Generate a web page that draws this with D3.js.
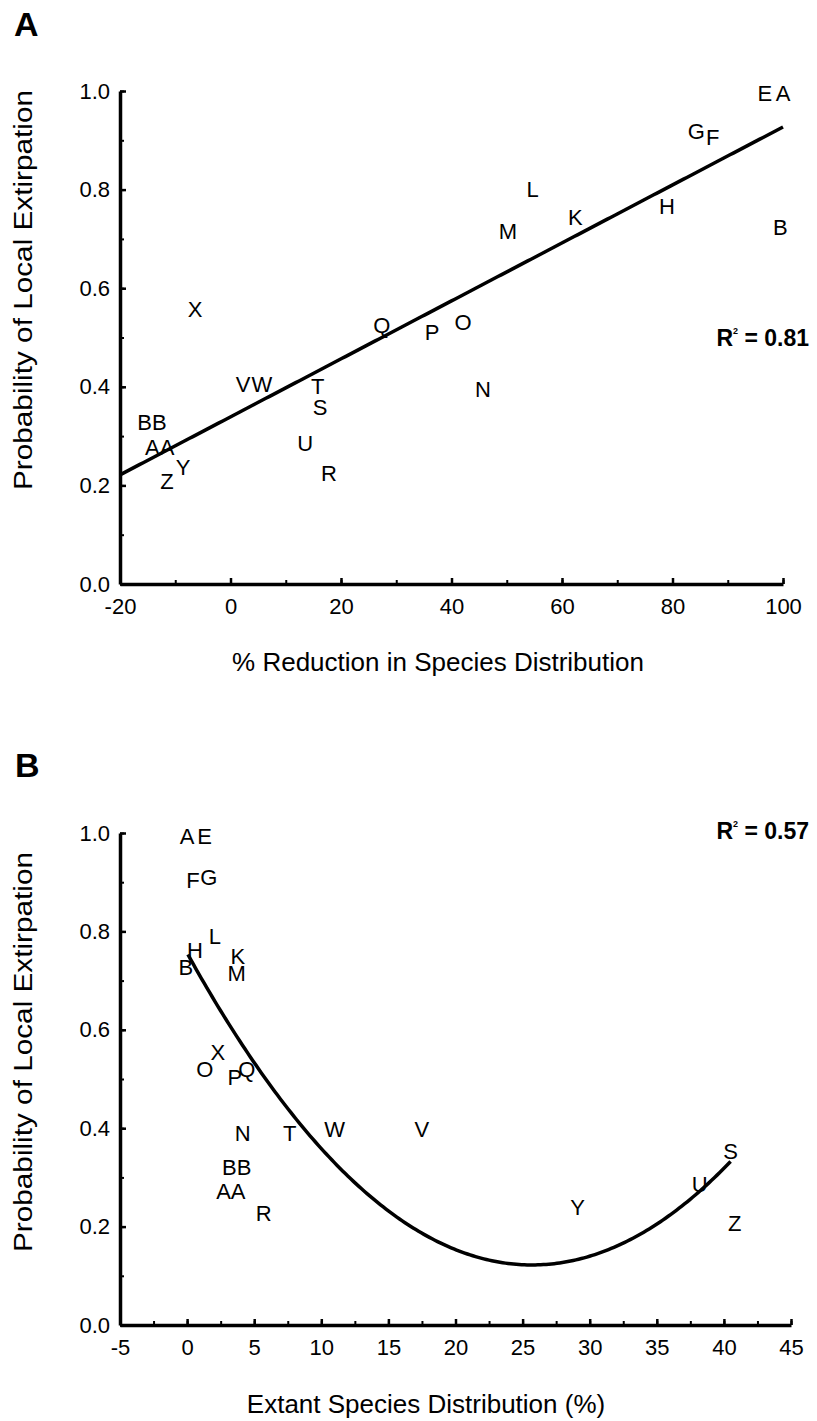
<!DOCTYPE html>
<html>
<head>
<meta charset="utf-8">
<script src="https://cdn.jsdelivr.net/npm/d3@7"></script>
<style>
  html, body { margin: 0; padding: 0; background: #fff; }
  svg { display: block; font-family: "Liberation Sans", Arial, sans-serif; }
</style>
</head>
<body>
<svg id="chart" width="817" height="1421"></svg>
<script>
// ---------- Data ----------
const speciesA = ["A","B","E","F","G","H","K","L","M","N","O","P","Q","R","S","T","U","V","W","X","Y","Z","AA","BB"];
const reductionA = [100, 99.5, 96.7, 87.3, 84.3, 79, 62.4, 54.7, 50.2, 45.7, 42.1, 36.5, 27.4, 17.8, 16.2, 15.8, 13.5, 2.3, 5.7, -6.4, -8.6, -11.5, -12.8, -14.2];
const probA = [0.995, 0.724, 0.995, 0.906, 0.918, 0.765, 0.744, 0.80, 0.714, 0.394, 0.53, 0.511, 0.525, 0.225, 0.357, 0.40, 0.286, 0.404, 0.404, 0.556, 0.237, 0.207, 0.276, 0.327];

const speciesB = ["A","E","F","G","H","B","L","K","M","X","O","P","Q","N","T","W","V","BB","AA","R","Y","U","S","Z"];
const extantB = [0, 1.3, 0.43, 1.62, 0.58, -0.09, 2.07, 3.78, 3.7, 2.29, 1.32, 3.56, 4.45, 4.15, 7.65, 11.0, 17.5, 3.7, 3.26, 5.71, 29.1, 38.2, 40.5, 40.8];
const probB = [0.992, 0.992, 0.904, 0.91, 0.762, 0.726, 0.789, 0.748, 0.715, 0.553, 0.52, 0.504, 0.52, 0.39, 0.39, 0.398, 0.398, 0.321, 0.272, 0.226, 0.238, 0.285, 0.352, 0.207];

// fitted curves: linear for A, quadratic for B
const fitA = [0.339, 0.00588];            // intercept, slope
const fitARange = [-20, 100];
const fitB = [0.756, -0.04934, 0.00096];  // c0, c1, c2
const fitBRange = [0.06, 40.5];

const r2Labels = ["0.81", "0.57"];
const xTicksA = [-20, 0, 20, 40, 60, 80, 100];
const xTicksB = [-5, 0, 5, 10, 15, 20, 25, 30, 35, 40, 45];
const yTicks = [0, 0.2, 0.4, 0.6, 0.8, 1.0];

const svg = d3.select("#chart");
const fmtInt = d => String(d);           // plain hyphen minus like the reference
const fmtY = d => d.toFixed(1);

function drawPanel(cfg) {
  const g = svg.append("g");
  const x = d3.scaleLinear().domain(cfg.xDomain).range(cfg.xRange);
  const y = d3.scaleLinear().domain([0, 1]).range(cfg.yRange);

  // minor ticks
  const minorX = d3.range(cfg.xDomain[0], cfg.xDomain[1] + 1e-9, cfg.minorStep);
  const minorY = d3.range(0, 1.0001, 0.1);
  g.append("g").attr("transform", `translate(0,${cfg.yRange[0]})`)
    .call(d3.axisBottom(x).tickValues(minorX).tickSize(-4).tickSizeOuter(0).tickFormat(""))
    .call(s => s.select(".domain").remove())
    .selectAll("line").attr("stroke", "#000").attr("stroke-width", 2);
  g.append("g").attr("transform", `translate(${cfg.xRange[0]},0)`)
    .call(d3.axisLeft(y).tickValues(minorY).tickSize(-4).tickSizeOuter(0).tickFormat(""))
    .call(s => s.select(".domain").remove())
    .selectAll("line").attr("stroke", "#000").attr("stroke-width", 2);

  // major axes
  const xAxis = g.append("g").attr("transform", `translate(0,${cfg.yRange[0]})`)
    .call(d3.axisBottom(x).tickValues(cfg.xTicks).tickSize(-6).tickSizeOuter(0).tickPadding(14).tickFormat(fmtInt));
  xAxis.select(".domain").attr("stroke", "#000").attr("stroke-width", 3.5);
  xAxis.selectAll(".tick line").attr("stroke", "#000").attr("stroke-width", 2.5);
  xAxis.selectAll("text").attr("font-size", 22).attr("fill", "#000")
    .attr("font-family", "Liberation Sans, Arial, sans-serif");

  const yAxis = g.append("g").attr("transform", `translate(${cfg.xRange[0]},0)`)
    .call(d3.axisLeft(y).tickValues(yTicks).tickSize(-6).tickSizeOuter(0).tickPadding(10).tickFormat(fmtY));
  yAxis.select(".domain").attr("stroke", "#000").attr("stroke-width", 3.5);
  yAxis.selectAll(".tick line").attr("stroke", "#000").attr("stroke-width", 2.5);
  yAxis.selectAll("text").attr("font-size", 22).attr("fill", "#000")
    .attr("font-family", "Liberation Sans, Arial, sans-serif");

  // fit curve
  const xs = d3.range(cfg.fitRange[0], cfg.fitRange[1] + 1e-9, (cfg.fitRange[1] - cfg.fitRange[0]) / 200);
  const fitPts = xs.map(v => [v, cfg.fit.reduce((acc, c, i) => acc + c * Math.pow(v, i), 0)]);
  g.append("path").datum(fitPts)
    .attr("fill", "none").attr("stroke", "#000").attr("stroke-width", 3.5)
    .attr("stroke-linejoin", "round")
    .attr("d", d3.line().x(d => x(d[0])).y(d => y(d[1])));

  // point labels
  g.selectAll("text.pt").data(cfg.labels).join("text")
    .attr("class", "pt")
    .attr("x", (d, i) => x(cfg.xs[i]))
    .attr("y", (d, i) => y(cfg.ys[i]))
    .attr("text-anchor", "middle")
    .attr("dominant-baseline", "central")
    .attr("font-size", 22)
    .attr("fill", "#000")
    .text(d => d);

  // R^2 label
  const r = g.append("text")
    .attr("x", 809).attr("y", cfg.r2y)
    .attr("text-anchor", "end")
    .attr("font-size", 23).attr("font-weight", "bold").attr("fill", "#000");
  r.append("tspan").text("R");
  r.append("tspan").attr("font-size", 9).attr("dy", -12).text("2");
  r.append("tspan").attr("dy", 12).text(" = " + cfg.r2);

  // axis titles
  g.append("text")
    .attr("x", cfg.xTitleX).attr("y", cfg.xTitleY)
    .attr("text-anchor", "middle").attr("font-size", 26).attr("fill", "#000")
    .text(cfg.xTitle);
  g.append("text")
    .attr("transform", `translate(32,${cfg.yTitleY}) rotate(-90)`)
    .attr("text-anchor", "middle").attr("font-size", 26).attr("fill", "#000")
    .attr("textLength", 400).attr("lengthAdjust", "spacingAndGlyphs")
    .text("Probability of Local Extirpation");

  // panel letter
  g.append("text")
    .attr("x", cfg.letterX).attr("y", cfg.letterY)
    .attr("font-size", 34).attr("font-weight", "bold").attr("fill", "#000")
    .text(cfg.letter);
}

drawPanel({
  xDomain: [-20, 100], xRange: [120, 783], yRange: [584, 91],
  minorStep: 10, xTicks: xTicksA,
  fit: fitA, fitRange: fitARange,
  labels: speciesA, xs: reductionA, ys: probA,
  r2: r2Labels[0], r2y: 346,
  xTitle: "% Reduction in Species Distribution", xTitleX: 438, xTitleY: 671,
  yTitleY: 290, letter: "A", letterX: 14, letterY: 36
});

drawPanel({
  xDomain: [-5, 45], xRange: [120, 791], yRange: [1325, 833],
  minorStep: 2.5, xTicks: xTicksB,
  fit: fitB, fitRange: fitBRange,
  labels: speciesB, xs: extantB, ys: probB,
  r2: r2Labels[1], r2y: 839,
  xTitle: "Extant Species Distribution (%)", xTitleX: 426, xTitleY: 1413,
  yTitleY: 1052, letter: "B", letterX: 15, letterY: 777
});
</script>
</body>
</html>
